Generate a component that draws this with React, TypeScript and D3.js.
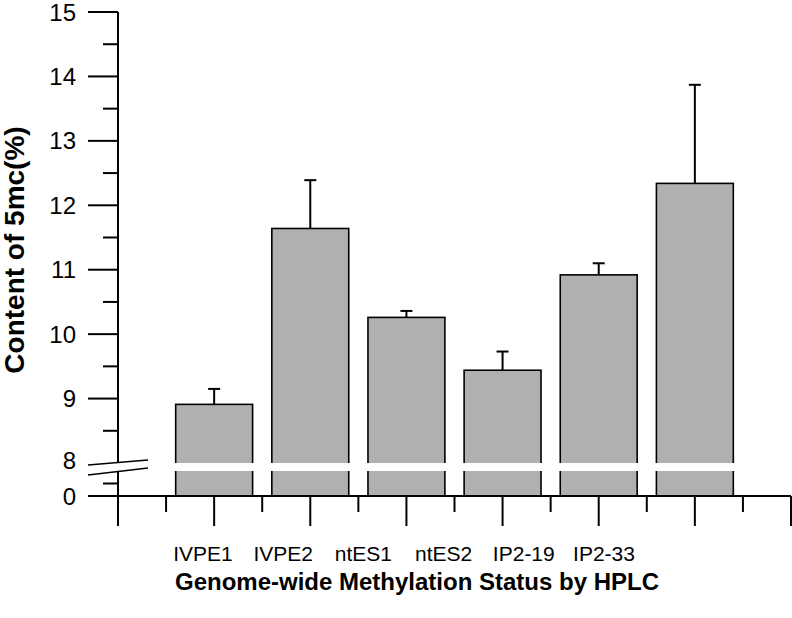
import React from "react";
import * as d3 from "d3";

const categories = ["IVPE1", "IVPE2", "ntES1", "ntES2", "IP2-19", "IP2-33"];
const means = [8.91, 11.64, 10.26, 9.44, 10.92, 12.34];
const errTops = [9.15, 12.39, 10.36, 9.73, 11.1, 13.87];
const upperMajorTicks = [9, 10, 11, 12, 13, 14, 15];
const upperMinorTicks = [8.5, 9.5, 10.5, 11.5, 12.5, 13.5, 14.5];
const lowerMajorTicks = [0];
const lowerMinorTicks = [4];

const W = 792;
const H = 618;
const FONT = "'Liberation Sans', Arial, Helvetica, sans-serif";

export default function App() {
  const x = d3.scaleLinear().domain([0, 7]).range([118, 791]);
  const yUp = d3.scaleLinear().domain([8, 15]).range([463, 12]);
  const yLow = d3.scaleLinear().domain([0, 8]).range([496, 471]);
  const labelX = d3.scaleLinear().domain([0, 5]).range([203, 604]);
  const step = x(1) - x(0);
  const barW = step * 0.8;
  const base = yLow(0);
  const axisX = x(0);
  const xMajor = d3.range(0, 8);
  const xMinor = d3.range(0, 7).map((d) => d + 0.5);

  return (
    <svg
      width={W}
      height={H}
      style={{ position: "absolute", left: 0, top: 0, background: "#fff" }}
    >
      {categories.map((c, i) => {
        const cx = x(i + 1);
        return (
          <g key={c}>
            <line x1={cx} x2={cx} y1={yUp(means[i])} y2={yUp(errTops[i])} stroke="#000" strokeWidth={2} />
            <line x1={cx - 6} x2={cx + 6} y1={yUp(errTops[i])} y2={yUp(errTops[i])} stroke="#000" strokeWidth={2} />
            <rect
              x={cx - barW / 2}
              y={yUp(means[i])}
              width={barW}
              height={base - yUp(means[i])}
              fill="#b0b0b0"
              stroke="#000"
              strokeWidth={1.6}
            />
          </g>
        );
      })}
      <rect x={axisX + 1} y={yUp(8)} width={W - axisX} height={yLow(8) - yUp(8)} fill="#fff" />

      <line x1={axisX} x2={axisX} y1={yUp(15)} y2={yUp(8) - 1} stroke="#000" strokeWidth={2} />
      <line x1={axisX} x2={axisX} y1={yLow(8) + 1} y2={base + 30} stroke="#000" strokeWidth={2} />
      {upperMajorTicks.map((t) => (
        <g key={"um" + t}>
          <line x1={axisX - 30} x2={axisX} y1={yUp(t)} y2={yUp(t)} stroke="#000" strokeWidth={2} />
          <text x={76} y={yUp(t)} dy="0.36em" textAnchor="end" fontFamily={FONT} fontSize={24} fill="#000">
            {t}
          </text>
        </g>
      ))}
      {upperMinorTicks.map((t) => (
        <line key={"un" + t} x1={axisX - 15} x2={axisX} y1={yUp(t)} y2={yUp(t)} stroke="#000" strokeWidth={2} />
      ))}
      {lowerMajorTicks.map((t) => (
        <g key={"lm" + t}>
          <line x1={axisX - 30} x2={axisX} y1={yLow(t)} y2={yLow(t)} stroke="#000" strokeWidth={2} />
          <text x={76} y={yLow(t)} dy="0.36em" textAnchor="end" fontFamily={FONT} fontSize={24} fill="#000">
            {t}
          </text>
        </g>
      ))}
      {lowerMinorTicks.map((t) => (
        <line key={"ln" + t} x1={axisX - 15} x2={axisX} y1={yLow(t)} y2={yLow(t)} stroke="#000" strokeWidth={2} />
      ))}
      <text x={76} y={yUp(8) - 3} dy="0.36em" textAnchor="end" fontFamily={FONT} fontSize={24} fill="#000">
        8
      </text>
      <line x1={88} y1={465} x2={148} y2={460} stroke="#000" strokeWidth={1.6} />
      <line x1={88} y1={475} x2={148} y2={468} stroke="#000" strokeWidth={1.6} />

      <line x1={axisX} x2={x(7)} y1={base} y2={base} stroke="#000" strokeWidth={2} />
      {xMajor.map((t) => (
        <line key={"xm" + t} x1={x(t)} x2={x(t)} y1={base} y2={base + 30} stroke="#000" strokeWidth={2} />
      ))}
      {xMinor.map((t) => (
        <line key={"xn" + t} x1={x(t)} x2={x(t)} y1={base} y2={base + 16} stroke="#000" strokeWidth={2} />
      ))}
      {categories.map((c, i) => (
        <text key={"lab" + c} x={labelX(i)} y={561} textAnchor="middle" fontFamily={FONT} fontSize={21} fill="#000">
          {c}
        </text>
      ))}

      <text x={417} y={590} textAnchor="middle" fontFamily={FONT} fontSize={24} fontWeight="bold" fill="#000">
        Genome-wide Methylation Status by HPLC
      </text>
      <text
        transform={`translate(24, 250) rotate(-90)`}
        textAnchor="middle"
        fontFamily={FONT}
        fontSize={28}
        fontWeight="bold"
        fill="#000"
      >
        Content of 5mc(%)
      </text>
    </svg>
  );
}
